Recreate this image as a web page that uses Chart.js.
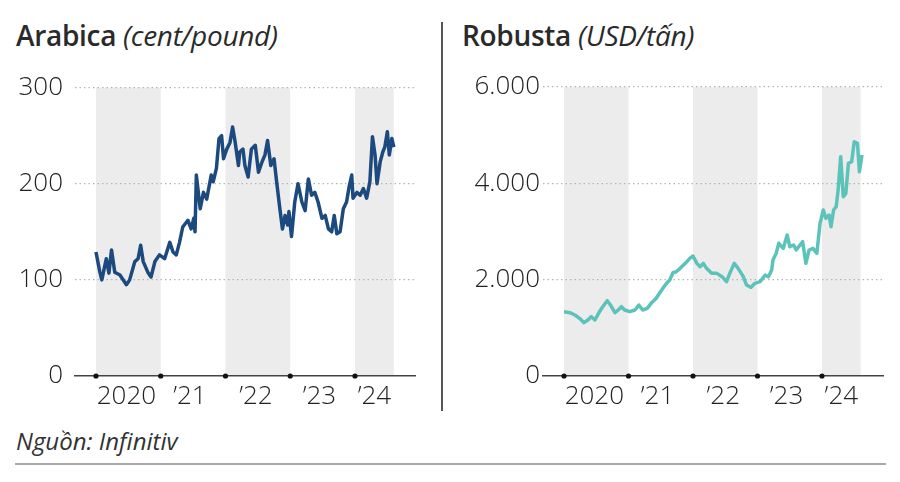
<!DOCTYPE html>
<html>
<head>
<meta charset="utf-8">
<script src="https://cdn.jsdelivr.net/npm/chart.js@4/dist/chart.umd.min.js"></script>
<style>
  body { margin: 0; background: #fff; width: 900px; height: 482px; position: relative; overflow: hidden; font-family: "Open Sans", sans-serif; color: #222; }
  .title { position: absolute; top: 16px; font-size: 28px; font-weight: 600; white-space: nowrap; letter-spacing: -0.3px; color: #2a2a2a; }
  .title i { font-weight: 400; }
  .source { position: absolute; left: 16px; top: 424px; font-size: 24px; font-style: italic; color: #333; }
  .divider { position: absolute; left: 441px; top: 22px; width: 2px; height: 389px; background: #555; }
  .bottomline { position: absolute; left: 15px; top: 463px; width: 871px; height: 2px; background: #aaa; }
  canvas { position: absolute; }
</style>
</head>
<body>
<div class="title" style="left:16px">Arabica <i>(cent/pound)</i></div>
<div class="title" style="left:462px">Robusta <i>(USD/tấn)</i></div>
<div class="divider"></div>
<div class="source">Nguồn: Infinitiv</div>
<div class="bottomline"></div>
<canvas id="arabicaChart" width="440" height="360" style="left:0;top:60px"></canvas>
<canvas id="robustaChart" width="440" height="360" style="left:450px;top:60px"></canvas>
<script>
// ===== Data =====
const xLabels = ['2020', '\u201921', '\u201922', '\u201923', '\u201924'];
const xLabelPos = [2020.47, 2021.45, 2022.47, 2023.45, 2024.3];
const yearTicks = [2020, 2021, 2022, 2023, 2024];
const bandStart = [2020, 2022, 2024];
const bandEnd = [2021, 2023, 2024.6];

const arabicaTicks = [0, 100, 200, 300];
const robustaTicks = [0, 2000, 4000, 6000];

const arabicaYears = [2020.00, 2020.06, 2020.09, 2020.16, 2020.20, 2020.24, 2020.29, 2020.37, 2020.47, 2020.52,
  2020.60, 2020.65, 2020.69, 2020.73, 2020.80, 2020.85, 2020.91, 2020.98, 2021.06, 2021.14,
  2021.19, 2021.24, 2021.29, 2021.34, 2021.42, 2021.47, 2021.51, 2021.53, 2021.55, 2021.61,
  2021.66, 2021.71, 2021.78, 2021.81, 2021.86, 2021.90, 2021.94, 2021.97, 2022.02, 2022.07,
  2022.11, 2022.15, 2022.20, 2022.22, 2022.27, 2022.30, 2022.35, 2022.40, 2022.46, 2022.51,
  2022.56, 2022.61, 2022.65, 2022.70, 2022.75, 2022.79, 2022.84, 2022.88, 2022.92, 2022.96,
  2022.98, 2023.02, 2023.07, 2023.12, 2023.18, 2023.23, 2023.28, 2023.33, 2023.38, 2023.43,
  2023.49, 2023.54, 2023.59, 2023.64, 2023.68, 2023.72, 2023.77, 2023.82, 2023.87, 2023.91,
  2023.95, 2023.97, 2024.03, 2024.08, 2024.13, 2024.18, 2024.23, 2024.27, 2024.31, 2024.34,
  2024.39, 2024.43, 2024.46, 2024.50, 2024.53, 2024.57, 2024.60];
const arabicaValues = [129, 108, 100, 122, 107, 131, 108, 105, 95, 100,
  119, 122, 136, 119, 108, 103, 119, 126, 122, 139,
  129, 126, 139, 155, 162, 153, 164, 150, 209, 174,
  191, 184, 209, 202, 216, 247, 250, 226, 236, 243,
  259, 243, 219, 233, 236, 219, 207, 236, 240, 212,
  222, 230, 245, 219, 226, 202, 174, 153, 167, 157,
  171, 145, 181, 200, 181, 172, 205, 188, 191, 181,
  164, 167, 153, 150, 167, 148, 150, 174, 181, 197,
  209, 185, 191, 188, 195, 185, 202, 249, 230, 200,
  223, 233, 238, 254, 230, 247, 238];

const robustaYears = [2020.00, 2020.09, 2020.17, 2020.24, 2020.31, 2020.37, 2020.42, 2020.48, 2020.55, 2020.60,
  2020.67, 2020.72, 2020.79, 2020.84, 2020.89, 2020.94, 2021.02, 2021.10, 2021.16, 2021.22,
  2021.29, 2021.35, 2021.43, 2021.48, 2021.55, 2021.59, 2021.64, 2021.69, 2021.74, 2021.80,
  2021.88, 2021.95, 2022.00, 2022.06, 2022.11, 2022.16, 2022.21, 2022.29, 2022.37, 2022.45,
  2022.52, 2022.57, 2022.64, 2022.70, 2022.78, 2022.83, 2022.90, 2022.96, 2023.04, 2023.12,
  2023.17, 2023.22, 2023.24, 2023.29, 2023.33, 2023.40, 2023.46, 2023.50, 2023.56, 2023.60,
  2023.66, 2023.70, 2023.75, 2023.80, 2023.86, 2023.92, 2023.97, 2024.02, 2024.06, 2024.11,
  2024.14, 2024.18, 2024.22, 2024.25, 2024.29, 2024.33, 2024.37, 2024.41, 2024.46, 2024.50,
  2024.55, 2024.58, 2024.62];
const robustaValues = [1335, 1314, 1266, 1197, 1107, 1163, 1231, 1163, 1335, 1439,
  1563, 1474, 1314, 1370, 1439, 1370, 1335, 1370, 1474, 1370,
  1405, 1509, 1613, 1717, 1854, 1924, 1993, 2144, 2165, 2235,
  2339, 2443, 2491, 2339, 2269, 2339, 2235, 2131, 2131, 2062,
  1958, 2131, 2339, 2235, 2062, 1889, 1841, 1924, 1958, 2097,
  2062, 2200, 2408, 2547, 2755, 2651, 2927, 2685, 2720, 2616,
  2720, 2788, 2339, 2616, 2651, 2547, 3170, 3446, 3274, 3342,
  3100, 3446, 3515, 3861, 4553, 3722, 3792, 4415, 4449, 4864,
  4831, 4241, 4588];

const tickFont = { family: '"Open Sans", sans-serif', size: 26, weight: 300 };

// gray bands behind alternate years, dots on the axis at year starts
const yearDecor = {
  id: 'yearDecor',
  beforeDraw(chart) {
    const { ctx, chartArea, scales } = chart;
    ctx.save();
    ctx.fillStyle = '#ececec';
    for (let i = 0; i < bandStart.length; i++) {
      const x1 = scales.x.getPixelForValue(bandStart[i]);
      const x2 = scales.x.getPixelForValue(bandEnd[i]);
      ctx.fillRect(x1, chartArea.top, x2 - x1, chartArea.bottom - chartArea.top);
    }
    ctx.restore();
  },
  afterDraw(chart) {
    const { ctx, chartArea, scales } = chart;
    ctx.save();
    ctx.fillStyle = '#111';
    for (const yr of yearTicks) {
      ctx.beginPath();
      ctx.arc(scales.x.getPixelForValue(yr), chartArea.bottom, 2.6, 0, Math.PI * 2);
      ctx.fill();
    }
    ctx.restore();
  }
};

function makeChart(id, years, values, color, yTicks, yMax, xMin, xMax, yAxisWidth, yPad, padRight, fmt) {
  const ctx = document.getElementById(id).getContext('2d');
  return new Chart(ctx, {
    type: 'line',
    data: {
      datasets: [{
        data: years.map((x, i) => ({ x: x, y: values[i] })),
        borderColor: color,
        borderWidth: 3.5,
        pointRadius: 0,
        tension: 0,
        borderJoinStyle: 'round'
      }]
    },
    options: {
      responsive: false,
      animation: false,
      events: [],
      layout: { padding: { top: 27, right: padRight, left: 0, bottom: 0 } },
      plugins: { legend: { display: false }, tooltip: { enabled: false } },
      scales: {
        x: {
          type: 'linear',
          min: xMin,
          max: xMax,
          afterBuildTicks: (scale) => { scale.ticks = xLabelPos.map(v => ({ value: v })); },
          afterFit: (scale) => { scale.height = 44; },
          ticks: {
            callback: (v, i) => xLabels[i],
            font: tickFont,
            color: '#222',
            padding: 5,
            maxRotation: 0,
            autoSkip: false
          },
          grid: { display: false, drawTicks: false },
          border: { display: true, color: '#444', width: 1.5 }
        },
        y: {
          min: 0,
          max: yMax,
          afterBuildTicks: (scale) => { scale.ticks = yTicks.map(v => ({ value: v })); },
          afterFit: (scale) => { scale.width = yAxisWidth; },
          ticks: {
            callback: fmt,
            font: tickFont,
            color: '#222',
            padding: yPad
          },
          grid: {
            drawTicks: false,
            color: (c) => c.tick && c.tick.value === 0 ? 'rgba(0,0,0,0)' : '#b5b5b5',
            lineWidth: 1.2
          },
          border: { display: false, dash: [1.5, 3] }
        }
      }
    },
    plugins: [yearDecor]
  });
}

makeChart('arabicaChart', arabicaYears, arabicaValues, '#1d4a7e', arabicaTicks, 300,
  2019.676, 2024.927, 75, 12, 25, v => String(v));
makeChart('robustaChart', robustaYears, robustaValues, '#5cc3ba', robustaTicks, 6000,
  2019.674, 2024.946, 93, 3, 7, v => v === 0 ? '0' : (v / 1000) + '.000');
</script>
</body>
</html>
